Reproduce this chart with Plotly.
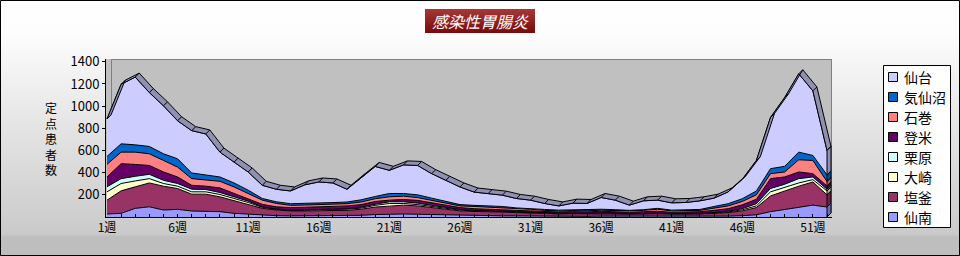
import base64
import plotly.graph_objects as go

# ---------------- data ----------------
weeks = list(range(1, 53))
tick_weeks = list(range(1, 53))
tick_text = [f"{w}週" if (w - 1) % 5 == 0 else "" for w in weeks]

senan = [27,33,78,92,63,69,54,54,48,33,24,18,12, 10,10,12,12,12,15,22,27,27,25,22,18,15,12,12,10,10,8,8,6,6,6,8,8,6,6,6,5,5,5,6,8,12,20, 48,69,92,107,90]
shiogama = [125,203,194,215,215,188,152,152,134,113,92,60,51, 45,45,46,46,48,55,68,71,80,75,63,52,40,38,38,35,30,27,24,22,24,22,24,22,20,22,24,20,20,23,26,32,43,65, 142,167,186,209,110]
osaki = [75,66,53,39,24,21,21,21,21,21,15,9,6, 5,5,10,8,10,10,15,24,15,12, 10,8,7,5,5,5,3,3,3,2, 3,2,3,3,2,2,3,3,3,2, 4,5,10,15, 37,30,29,21,35]
kurihara = [45,44,42,39,29,24,24,21,18,15,12,5,3, 3,4,2,4,5,8,10,15,15,13, 10,7,6,5,3,3,3,4,3,3, 2,3,3,3,2,3,3,2,2,3, 4,7,10,20, 30,29,39,24,15]
tome = [89,135,107,80,75,59,35,30,41,30,24,22,20, 22,24,22,24,25,24,25,15,21,25, 23,20,17,15,14,15,14,13,12,12, 13,12,14,14,12,15,16,12,14,15, 20,23,35,40, 89,66,60,30,30]
ishinomaki = [114,104,111,105,104,89,60,53,60,59,45,38,30, 20,20,20,21,20,23,25,30,30,25, 22,20,15,20,18,17,15,15,10,10, 10,10,10,10,13,12,18,13,11,12, 20,25,30,40, 45,45,110,119,40]
kesennuma = [71,75,66,66,60,75,51,45,39,36,30,15,15, 15,14,13,15,15,20,20,30,24,25, 20,15,12,10,10,10,7,8,8,7, 7,7,8,6,5,6,8,7,7,8, 15,20,25,35, 45,51,69,45,60]
sendai = [338,537,611,486,433,343,382,373,224,188,164,119,113, 115,168,191,177,115,200,271,209,258,265, 221,191,159,120,112,102,85,74,54,38, 60,60,106,86,47,80,74,66,69,78, 75,107,175,275, 462,620,707,582,220]

series_names = ["仙南", "塩釜", "大崎", "栗原", "登米", "石巻", "気仙沼", "仙台"]
series_values = [senan, shiogama, osaki, kurihara, tome, ishinomaki, kesennuma, sendai]
series_colors = ["#9999FF", "#993366", "#FFFFCC", "#CCFFFF", "#660066", "#FF8080", "#0066CC", "#CCCCFF"]
side_colors = ["#6B6BB3", "#6B2447", "#B3B38F", "#8FB3B3", "#470047", "#B35A5A", "#00478F", "#8F8FB3"]

y_ticks = [200, 400, 600, 800, 1000, 1200, 1400]
title_text = "感染性胃腸炎"
y_title = "定点患者数"

# ---------------- geometry ----------------
W, H = 960, 256
PL, PR, PT, PB = 106, 832, 59, 217          # plot area in pixels
X_RANGE = [1 - 1 / 14.118, 52 + 5 / 14.118]
Y_RANGE = [0, 1425]
DX = 4 / 14.118                              # 3D depth in data units
DY = 4 / ((PB - PT) / (Y_RANGE[1] - Y_RANGE[0]))


def px(x):
    return (x - PL) / (PR - PL)


def py(y):
    return (PB - y) / (PB - PT)


fig = go.Figure()

# stacked areas
for name, vals, col in zip(series_names, series_values, series_colors):
    fig.add_trace(go.Scatter(
        x=weeks, y=vals, name=name, mode="lines", stackgroup="one",
        line=dict(color="black", width=1), fillcolor=col, showlegend=False,
        hoverinfo="skip"))

# totals for the 3D top band
totals = [sum(v[i] for v in series_values) for i in range(len(weeks))]
band_x = weeks + [w + DX for w in weeks[::-1]]
band_y = totals + [t + DY for t in totals[::-1]]
fig.add_trace(go.Scatter(x=band_x, y=band_y, fill="toself", mode="lines",
                         fillcolor="#9090B2", line=dict(color="black", width=1),
                         showlegend=False, hoverinfo="skip"))
cx, cy = [], []
for w, t in zip(weeks, totals):
    cx += [w, w + DX, None]
    cy += [t, t + DY, None]
fig.add_trace(go.Scatter(x=cx, y=cy, mode="lines", line=dict(color="black", width=1),
                         showlegend=False, hoverinfo="skip"))

# right-hand side faces of the stack at the last week
bottom = 0
last = len(weeks) - 1
for vals, col in zip(series_values, side_colors):
    top = bottom + vals[last]
    w = weeks[last]
    fig.add_trace(go.Scatter(
        x=[w, w + DX, w + DX, w, w], y=[bottom, bottom + DY, top + DY, top, bottom],
        fill="toself", mode="lines", fillcolor=col, line=dict(color="black", width=1),
        showlegend=False, hoverinfo="skip"))
    bottom = top

# ---------------- background (gradient + title box) ----------------
svg = f'''<svg xmlns="http://www.w3.org/2000/svg" width="{W}" height="{H}" viewBox="0 0 {W} {H}" preserveAspectRatio="none">
<defs>
<linearGradient id="bg" x1="0" y1="0" x2="0" y2="1">
<stop offset="0" stop-color="#FFFFFF"/><stop offset="0.13" stop-color="#FDFDFD"/>
<stop offset="0.5" stop-color="#E4E4E4"/><stop offset="0.915" stop-color="#CACACA"/>
<stop offset="0.925" stop-color="#BEBEBE"/><stop offset="1" stop-color="#BEBEBE"/>
</linearGradient>
<linearGradient id="tb" x1="0" y1="0" x2="0" y2="1">
<stop offset="0" stop-color="#A63838"/><stop offset="1" stop-color="#780A0A"/>
</linearGradient>
</defs>
<rect width="{W}" height="{H}" fill="url(#bg)"/>
<rect x="425" y="9" width="110" height="24" fill="url(#tb)"/>
</svg>'''
src = "data:image/svg+xml;base64," + base64.b64encode(svg.encode()).decode()

shapes = [
    # plot wall
    dict(type="rect", xref="paper", yref="paper", x0=0, x1=1, y0=0, y1=1,
         fillcolor="#C0C0C0", line=dict(width=0), layer="below"),
    dict(type="line", xref="paper", yref="paper", x0=px(112), x1=px(832), y0=py(59.5), y1=py(59.5),
         line=dict(color="#808080", width=1), layer="below"),
    dict(type="line", xref="paper", yref="paper", x0=px(831.5), x1=px(831.5), y0=py(59), y1=py(213),
         line=dict(color="#808080", width=1), layer="below"),
    dict(type="line", xref="paper", yref="paper", x0=px(111.5), x1=px(111.5), y0=py(59), y1=py(213),
         line=dict(color="#808080", width=1), layer="below"),
    # outer border
    dict(type="rect", xref="paper", yref="paper", x0=px(0.5), x1=px(959.5), y0=py(0.5), y1=py(255.5),
         line=dict(color="black", width=1), fillcolor="rgba(0,0,0,0)", layer="above"),
    # legend box
    dict(type="rect", xref="paper", yref="paper", x0=px(883.5), x1=px(950.5), y0=py(65.5), y1=py(227.5),
         line=dict(color="black", width=1), fillcolor="white", layer="above"),
]

annotations = [
    dict(text=f"<i>{title_text}</i>", x=px(480), y=py(21), xref="paper", yref="paper",
         showarrow=False, xanchor="center", yanchor="middle",
         font=dict(family="Noto Sans CJK JP", size=16, color="white")),
    # vertical y-axis title, one character per line
    dict(text="<br>".join(y_title), x=px(51), y=py(138), xref="paper", yref="paper",
         showarrow=False, xanchor="center", yanchor="middle",
         font=dict(family="Noto Sans CJK JP", size=12, color="black")),
]

# manual legend (top item = top layer)
for i, (name, col) in enumerate(zip(series_names[::-1], series_colors[::-1])):
    cyp = 77 + 20 * i
    shapes.append(dict(type="rect", xref="paper", yref="paper",
                       x0=px(888.5), x1=px(897.5), y0=py(cyp - 4.5), y1=py(cyp + 4.5),
                       fillcolor=col, line=dict(color="black", width=1), layer="above"))
    annotations.append(dict(text=name, x=px(902), y=py(cyp), xref="paper", yref="paper",
                            showarrow=False, xanchor="left", yanchor="middle",
                            font=dict(family="Noto Sans CJK JP", size=14, color="black")))

fig.update_layout(
    width=W, height=H,
    margin=dict(l=PL, r=W - PR, t=PT, b=H - PB, pad=0),
    paper_bgcolor="white", plot_bgcolor="rgba(0,0,0,0)",
    showlegend=False, hovermode=False,
    images=[dict(source=src, xref="paper", yref="paper", x=px(0), y=py(0),
                 sizex=W / (PR - PL), sizey=H / (PB - PT), xanchor="left", yanchor="top",
                 sizing="stretch", layer="below")],
    shapes=shapes, annotations=annotations,
    xaxis=dict(range=X_RANGE, tickmode="array", tickvals=tick_weeks, ticktext=tick_text,
               ticks="inside", ticklen=3, tickcolor="black", showline=True, linecolor="black",
               linewidth=1, showgrid=False, zeroline=False,
               tickfont=dict(family="Noto Sans CJK JP", size=12, color="black")),
    yaxis=dict(range=Y_RANGE, tickmode="array", tickvals=y_ticks, ticks="outside", ticklen=3,
               tickcolor="black", showline=True, linecolor="black", linewidth=1,
               showgrid=False, zeroline=False,
               tickfont=dict(family="Noto Sans CJK JP", size=13, color="black")),
)

fig.write_html("out.html")
